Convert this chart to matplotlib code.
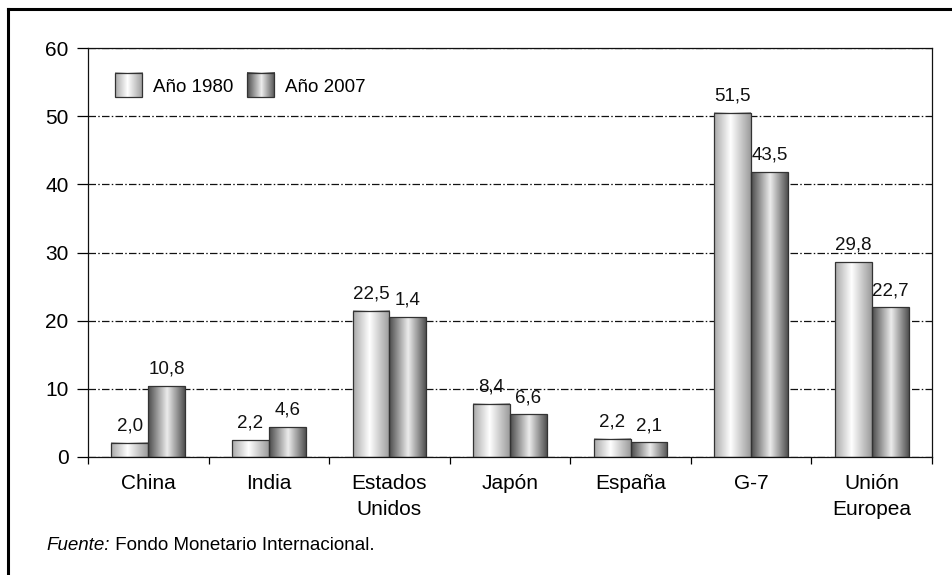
import numpy as np
import matplotlib
matplotlib.use("Agg")
import matplotlib.pyplot as plt
from matplotlib.colors import LinearSegmentedColormap
from matplotlib.patches import Rectangle
from matplotlib.lines import Line2D
from matplotlib.legend_handler import HandlerBase
from matplotlib.image import BboxImage
from matplotlib.transforms import Bbox, TransformedBbox

plt.rcParams["font.family"] = ["Liberation Sans", "DejaVu Sans"]

categories = ["China", "India", "Estados\nUnidos", "Japón", "España", "G-7", "Unión\nEuropea"]
series_names = ["Año 1980", "Año 2007"]
# bar heights as drawn in the picture
values_1980 = [2.1, 2.45, 21.45, 7.8, 2.7, 50.5, 28.6]
values_2007 = [10.4, 4.4, 20.5, 6.25, 2.15, 41.8, 21.95]
# printed labels (they do not always match the bars)
labels_1980 = ["2,0", "2,2", "22,5", "8,4", "2,2", "51,5", "29,8"]
labels_2007 = ["10,8", "4,6", "1,4", "6,6", "2,1", "43,5", "22,7"]
source_italic = "Fuente:"
source_text = " Fondo Monetario Internacional."

cmap_1980 = LinearSegmentedColormap.from_list(
    "c1980", [(0.0, "#a8a8a8"), (0.45, "#ffffff"), (1.0, "#9a9a9a")])
cmap_2007 = LinearSegmentedColormap.from_list(
    "c2007", [(0.0, "#4a4a4a"), (0.52, "#ececec"), (1.0, "#505050")])
grad = np.linspace(0, 1, 256).reshape(1, -1)


class GradHandler(HandlerBase):
    def __init__(self, cmap):
        super().__init__()
        self.cmap = cmap

    def create_artists(self, legend, orig_handle, xdescent, ydescent,
                       width, height, fontsize, trans):
        bb = Bbox.from_bounds(-xdescent, -ydescent, width, height)
        img = BboxImage(TransformedBbox(bb, trans), cmap=self.cmap,
                        interpolation="bilinear")
        img.set_data(grad)
        rect = Rectangle((-xdescent, -ydescent), width, height, fill=False,
                         edgecolor="#333333", lw=0.9, transform=trans)
        return [img, rect]


fig = plt.figure(figsize=(9.53, 5.75), dpi=100)
ax = fig.add_axes([88 / 953, 118 / 575, 844 / 953, 409 / 575])

x = np.arange(len(categories))
w = 0.306

for vals, off, cmap in [(values_1980, -w / 2, cmap_1980), (values_2007, w / 2, cmap_2007)]:
    bars = ax.bar(x + off, vals, w, facecolor="none", edgecolor="#333333",
                  lw=0.9, zorder=3)
    for b in bars:
        x0, y0 = b.get_x(), b.get_y()
        ax.imshow(grad, cmap=cmap, aspect="auto", zorder=2,
                  extent=[x0, x0 + b.get_width(), y0, y0 + b.get_height()],
                  interpolation="bilinear")

for vals, labs, off in [(values_1980, labels_1980, -w / 2), (values_2007, labels_2007, w / 2)]:
    for xi, v, lab in zip(x, vals, labs):
        ax.annotate(lab, (xi + off, v), xytext=(0, 6), textcoords="offset points",
                    ha="center", va="bottom", fontsize=13.5, color="#111111")

ax.set_xlim(-0.5, len(categories) - 0.5)
ax.set_ylim(0, 60)
ax.set_yticks(np.arange(0, 61, 10))
ax.set_xticks(np.arange(-0.5, len(categories), 1.0))
ax.set_xticklabels([])
ax.set_xticks(x, minor=True)
ax.set_xticklabels(categories, minor=True, fontsize=15, linespacing=1.5)
ax.tick_params(axis="x", which="major", direction="out", length=5, width=0.9)
ax.tick_params(axis="x", which="minor", length=0, pad=12)
ax.tick_params(axis="y", direction="out", length=8, width=0.9, pad=6, labelsize=15)

ax.set_axisbelow(True)
ax.yaxis.grid(True, color="#111111", lw=0.9, linestyle=(0, (6, 1.8, 1.2, 1.8)))
for s in ax.spines.values():
    s.set_linewidth(0.9)
    s.set_color("#111111")

handles = [Rectangle((0, 0), 1, 1), Rectangle((0, 0), 1, 1)]
leg = ax.legend(handles, series_names, ncol=2, frameon=False, fontsize=13.5,
                loc="upper left", bbox_to_anchor=(0.032, 0.938),
                borderpad=0, borderaxespad=0, handlelength=1.45, handleheight=1.6,
                handletextpad=0.6, columnspacing=0.7,
                handler_map={handles[0]: GradHandler(cmap_1980),
                             handles[1]: GradHandler(cmap_2007)})

# outer frame (top and left edges)
fig.add_artist(Line2D([8 / 953, 8 / 953], [0, 1 - 9 / 575], color="black", lw=2.2,
                      transform=fig.transFigure))
fig.add_artist(Line2D([8 / 953, 1], [1 - 9 / 575, 1 - 9 / 575], color="black", lw=2.2,
                      transform=fig.transFigure))

t1 = fig.text(46 / 953, 1 - 550 / 575, source_italic, fontsize=13.5, style="italic",
              va="baseline")
ax.annotate(source_text, xy=(1, 0), xycoords=t1, va="bottom", ha="left",
            fontsize=13.5, annotation_clip=False)

fig.savefig("out.png", dpi=100)
